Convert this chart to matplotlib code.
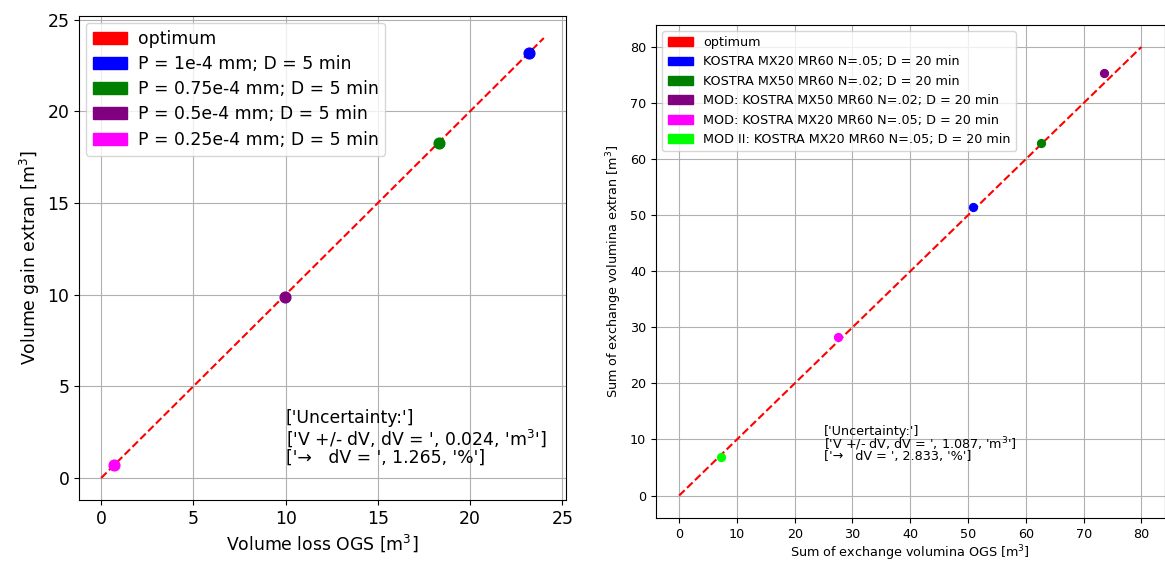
import numpy as np
import matplotlib
matplotlib.use("Agg")
import matplotlib.pyplot as plt
import matplotlib.patches as mpatches

# left panel: P variation, D = 5 min
left_labels = ["P = 1e-4 mm; D = 5 min", "P = 0.75e-4 mm; D = 5 min",
               "P = 0.5e-4 mm; D = 5 min", "P = 0.25e-4 mm; D = 5 min"]
left_colors = ["blue", "green", "purple", "magenta"]
left_ogs = [23.2, 18.3, 9.95, 0.7]
left_extran = [23.2, 18.3, 9.9, 0.7]
left_line = [0, 24]
left_dv, left_pct = 0.024, 1.265

# right panel: KOSTRA events, D = 20 min
right_labels = ["KOSTRA MX20 MR60 N=.05; D = 20 min",
                "KOSTRA MX50 MR60 N=.02; D = 20 min",
                "MOD: KOSTRA MX50 MR60 N=.02; D = 20 min",
                "MOD: KOSTRA MX20 MR60 N=.05; D = 20 min",
                "MOD II: KOSTRA MX20 MR60 N=.05; D = 20 min"]
right_colors = ["blue", "green", "purple", "magenta", "lime"]
right_ogs = [50.9, 62.6, 73.6, 27.5, 7.3]
right_extran = [51.4, 62.9, 75.3, 28.3, 6.9]
right_line = [0, 80]
right_dv, right_pct = 1.087, 2.833


def unc_text(dv, pct):
    return (str(['Uncertainty:']) + "\n"
            + "['V +/- dV, dV = ', " + str(dv) + ", 'm$^3$']\n"
            + "['\u2192   dV = ', " + str(pct) + ", '%']")


fig = plt.figure(figsize=(11.65, 5.62), dpi=100)

# ---- left
fs = 12.4
ax1 = fig.add_axes([0.0678, 0.1103, 0.418, 0.8612])
ax1.plot(left_line, left_line, "r--", zorder=2)
for x, y, c in zip(left_ogs, left_extran, left_colors):
    ax1.scatter(x, y, color=c, s=60, zorder=3)
ax1.grid(True)
ax1.set_xlabel("Volume loss OGS [m$^3$]", fontsize=fs, labelpad=3)
ax1.set_ylabel("Volume gain extran [m$^3$]", fontsize=fs)
ax1.tick_params(labelsize=fs)
ax1.set_xticks(np.arange(0, 26, 5))
ax1.set_yticks(np.arange(0, 26, 5))
handles = [mpatches.Patch(color="red", label="optimum")]
handles += [mpatches.Patch(color=c, label=l) for c, l in zip(left_colors, left_labels)]
ax1.legend(handles=handles, loc="upper left", fontsize=fs, labelspacing=0.42,
           borderaxespad=0.4, handletextpad=0.6)
ax1.text(10, 0.6, unc_text(left_dv, left_pct), fontsize=fs, va="bottom",
         linespacing=1.0)

# ---- right
fs2 = 9.2
ax2 = fig.add_axes([0.5631, 0.0783, 0.4365, 0.878])
ax2.plot(right_line, right_line, "r--", zorder=2)
for x, y, c in zip(right_ogs, right_extran, right_colors):
    ax2.scatter(x, y, color=c, s=32, zorder=3)
ax2.grid(True)
ax2.set_xlabel("Sum of exchange volumina OGS [m$^3$]", fontsize=fs2, labelpad=2)
ax2.set_ylabel("Sum of exchange volumina extran [m$^3$]", fontsize=fs2)
ax2.tick_params(labelsize=fs2)
ax2.set_xticks(np.arange(0, 81, 10))
ax2.set_yticks(np.arange(0, 81, 10))
handles = [mpatches.Patch(color="red", label="optimum")]
handles += [mpatches.Patch(color=c, label=l) for c, l in zip(right_colors, right_labels)]
ax2.legend(handles=handles, loc="upper left", fontsize=fs2, labelspacing=0.5)
ax2.text(25, 5.8, unc_text(right_dv, right_pct), fontsize=fs2, va="bottom",
         linespacing=0.75)

fig.savefig("out.png", dpi=100)
